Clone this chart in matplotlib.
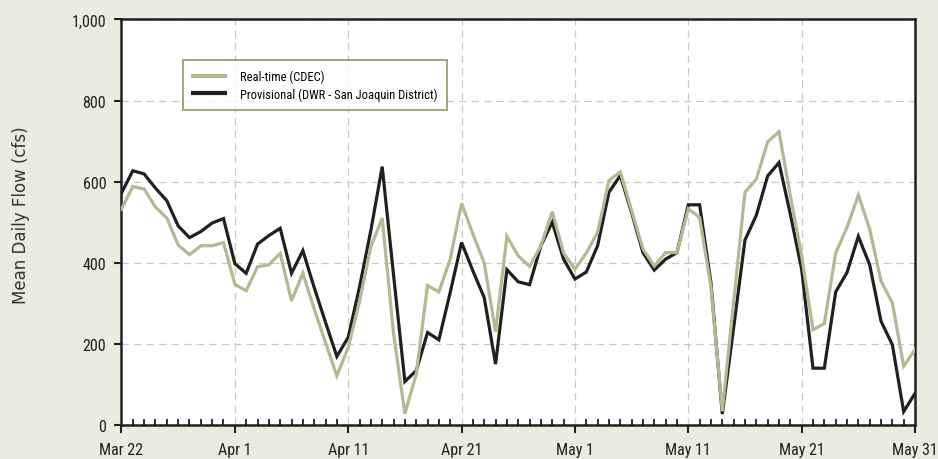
import numpy as np
import pandas as pd
import matplotlib
matplotlib.use("Agg")
import matplotlib.pyplot as plt
import matplotlib.dates as mdates
from matplotlib.ticker import FixedLocator, FuncFormatter
from matplotlib import font_manager

# daily mean flow, Mar 22 - May 31
dates = pd.date_range("2009-03-22", "2009-05-31", freq="D")

realtime_cdec = [
    532, 588, 582, 537, 510, 444, 420, 442, 442, 450,
    347, 331, 390, 395, 423, 306, 374, 286, 203, 121,
    191, 305, 440, 510, 225, 28, 125, 344, 328, 409,
    547, 471, 399, 230, 465, 417, 391, 442, 526, 424,
    384, 424, 475, 603, 624, 529, 434, 392, 425, 425,
    533, 512, 340, 34, 303, 574, 606, 698, 723, 566,
    417, 235, 250, 424, 487, 567, 483, 355, 301, 145,
    186,
]

provisional_dwr = [
    572, 627, 619, 584, 553, 491, 462, 477, 498, 509,
    398, 374, 446, 467, 485, 374, 430, 339, 253, 169,
    216, 340, 480, 637, 370, 107, 134, 228, 210, 327,
    450, 380, 314, 150, 383, 353, 346, 442, 500, 409,
    360, 377, 442, 574, 615, 524, 425, 382, 409, 425,
    543, 543, 350, 27, 240, 456, 517, 614, 647, 520,
    384, 140, 140, 328, 376, 465, 395, 256, 198, 33,
    78,
]

tick_dates = pd.to_datetime(["2009-03-22", "2009-04-01", "2009-04-11", "2009-04-21",
                             "2009-05-01", "2009-05-11", "2009-05-21", "2009-05-31"])
tick_labels = ["Mar 22", "Apr 1", "Apr 11", "Apr 21", "May 1", "May 11", "May 21", "May 31"]
y_ticks = [0, 200, 400, 600, 800, 1000]

series_labels = ["Real-time (CDEC)", "Provisional (DWR - San Joaquin District)"]

bg = "#ebebe0"
sage = "#b3b991"
dark = "#231f20"

# pick a narrow face for ticks/legend if one is around
names = {f.name for f in font_manager.fontManager.ttflist}
narrow = [n for n in ["Roboto Condensed", "Liberation Sans Narrow", "Roboto"] if n in names]
narrow = narrow + ["DejaVu Sans"]

fig = plt.figure(figsize=(9.38, 4.6), dpi=100, facecolor=bg)
ax = fig.add_axes([0.1295, 0.074, 0.8460, 0.8815])
ax.set_facecolor("white")

l_prov, = ax.plot(dates, provisional_dwr, color=dark, lw=2.3, solid_joinstyle="miter", zorder=3)
l_real, = ax.plot(dates, realtime_cdec, color=sage, lw=2.3, solid_joinstyle="miter", zorder=4)

ax.set_xlim(dates[0], dates[-1])
ax.set_ylim(0, 1000)

ax.xaxis.set_major_locator(FixedLocator(mdates.date2num(tick_dates)))
ax.xaxis.set_minor_locator(mdates.DayLocator())
ax.set_xticklabels(tick_labels)
ax.set_yticks(y_ticks)
ax.yaxis.set_major_formatter(FuncFormatter(lambda v, p: f"{int(v):,}"))

ax.grid(True, which="major", color="#c9c9c9", lw=0.9, linestyle=(0, (6, 4)))
ax.set_axisbelow(True)

for s in ax.spines.values():
    s.set_color(dark)
    s.set_linewidth(1.8)

ax.tick_params(axis="x", which="major", direction="out", length=6, width=1.5,
               color=dark, pad=6)
ax.tick_params(axis="x", which="minor", direction="in", length=4, width=1.3, color=dark)
ax.tick_params(axis="y", which="major", direction="out", length=5, width=1.5,
               color=dark, pad=6)
for lbl in ax.get_xticklabels() + ax.get_yticklabels():
    lbl.set_family(narrow)
    lbl.set_fontsize(11.5)
    lbl.set_color(dark)

ax.set_ylabel("Mean Daily Flow (cfs)", fontsize=12, color="#333333", family="DejaVu Sans")
ax.yaxis.set_label_coords(-0.115, 0.52)

leg = ax.legend([l_real, l_prov], series_labels, loc="upper left",
                bbox_to_anchor=(0.07, 0.915), frameon=True, fancybox=False,
                handlelength=2.6, handletextpad=1.2, borderpad=0.75,
                labelspacing=0.35, prop={"family": narrow, "size": 9})
leg.get_frame().set_edgecolor("#8d9150")
leg.get_frame().set_linewidth(1.4)
for h in leg.get_lines():
    h.set_linewidth(3)

fig.savefig("out.png", dpi=100, facecolor=bg)
